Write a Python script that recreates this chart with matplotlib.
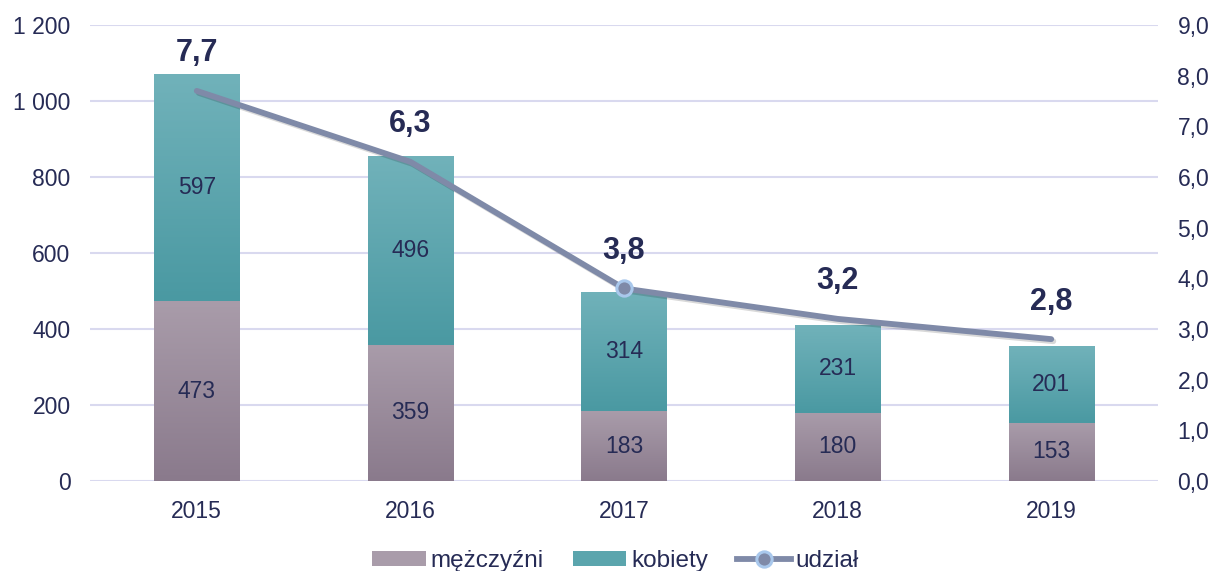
import numpy as np
import matplotlib
matplotlib.use("Agg")
import matplotlib.pyplot as plt
from matplotlib.patches import Patch
from matplotlib.lines import Line2D
from matplotlib.colors import LinearSegmentedColormap
import matplotlib.patheffects as pe

# dane
lata = ["2015", "2016", "2017", "2018", "2019"]
mezczyzni = [473, 359, 183, 180, 153]
kobiety = [597, 496, 314, 231, 201]
udzial = [7.7, 6.3, 3.8, 3.2, 2.8]

plt.rcParams['font.family'] = ['Liberation Sans', 'DejaVu Sans']
tekst = '#262b55'
siatka = '#d9d9ef'
kol_m = ('#a99caa', '#8a7a8c')
kol_k = ('#71b2ba', '#4a99a2')
kol_linia = '#7f8aa8'

fig = plt.figure(figsize=(12.14, 5.71), dpi=100)
ax = fig.add_axes([0.0741, 0.1576, 0.8798, 0.7986])

x = np.arange(len(lata))
w = 0.40


def gradient_bars(bars, kolory):
    # słupki z gradientem pionowym
    cmap = LinearSegmentedColormap.from_list('g', [kolory[1], kolory[0]])
    grad = np.linspace(0, 1, 256).reshape(-1, 1)
    for b in bars:
        x0, y0 = b.get_x(), b.get_y()
        x1, y1 = x0 + b.get_width(), y0 + b.get_height()
        b.set_facecolor('none')
        b.set_edgecolor('none')
        im = ax.imshow(grad, extent=[x0, x1, y0, y1], origin='lower',
                       cmap=cmap, aspect='auto', zorder=2)
        im.set_clip_path(b)


b1 = ax.bar(x, mezczyzni, w, zorder=2)
b2 = ax.bar(x, kobiety, w, bottom=mezczyzni, zorder=2)
gradient_bars(b1, kol_m)
gradient_bars(b2, kol_k)

for i in range(len(lata)):
    ax.text(x[i], mezczyzni[i] / 2, str(mezczyzni[i]), ha='center', va='center',
            fontsize=16.5, color=tekst, zorder=5)
    ax.text(x[i], mezczyzni[i] + kobiety[i] / 2, str(kobiety[i]), ha='center',
            va='center', fontsize=16.5, color=tekst, zorder=5)

ax.set_xlim(-0.5, len(lata) - 0.5)
ax.set_ylim(0, 1200)
ax.set_yticks(range(0, 1201, 200))
ax.set_yticklabels([f"{v:,}".replace(",", " ") for v in range(0, 1201, 200)])
ax.set_xticks(x)
ax.set_xticklabels(lata)
ax.grid(axis='y', color=siatka, linewidth=1.5, zorder=0)
ax.set_axisbelow(True)
for s in ax.spines.values():
    s.set_visible(False)
ax.tick_params(length=0, labelsize=16.5, labelcolor=tekst)
ax.tick_params(axis='y', pad=14)
ax.tick_params(axis='x', pad=14)

# oś prawa - udział
ax2 = ax.twinx()
ax2.set_ylim(0, 9)
ax2.set_yticks(range(0, 10))
ax2.set_yticklabels([f"{v:.1f}".replace(".", ",") for v in range(0, 10)])
for s in ax2.spines.values():
    s.set_visible(False)
ax2.tick_params(length=0, labelsize=16.5, labelcolor=tekst, pad=14)

ax2.plot(x, udzial, color=kol_linia, linewidth=4.2, solid_capstyle='round',
         solid_joinstyle='round', zorder=3,
         path_effects=[pe.SimpleLineShadow(offset=(1.5, -1.5), alpha=0.15), pe.Normal()])
ax2.plot(x[2], udzial[2], 'o', markersize=11, markerfacecolor=kol_linia,
         markeredgecolor='#a9c8ec', markeredgewidth=2.2, zorder=4)

for i, v in enumerate(udzial):
    ax2.annotate(f"{v:.1f}".replace(".", ","), (x[i], v), xytext=(0, 27),
                 textcoords='offset points', ha='center', va='center',
                 fontsize=22, fontweight='bold', color=tekst, zorder=5)

uchwyty = [
    Patch(facecolor=kol_m[0], edgecolor='none'),
    Patch(facecolor='#5ba5ad', edgecolor='none'),
    Line2D([0], [0], color=kol_linia, linewidth=4.2, marker='o', markersize=11,
           markerfacecolor=kol_linia, markeredgecolor='#a9c8ec', markeredgewidth=2.2),
]
fig.legend(uchwyty, ['mężczyźni', 'kobiety', 'udział'], loc='lower center',
           bbox_to_anchor=(0.507, -0.04), ncol=3, frameon=False, fontsize=17.5,
           labelcolor=tekst, handlelength=2.2, handleheight=0.55,
           handletextpad=0.2, columnspacing=1.2)

fig.savefig('out.png', dpi=100)
